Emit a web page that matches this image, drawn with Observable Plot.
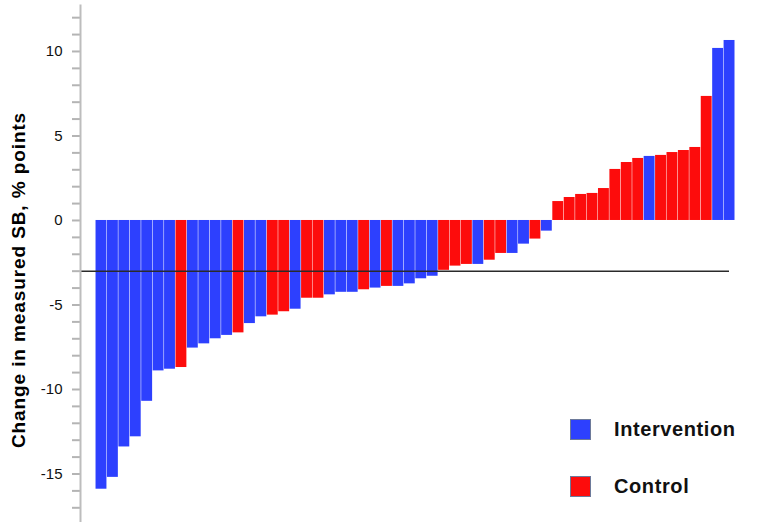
<!DOCTYPE html>
<html>
<head>
<meta charset="utf-8">
<script src="https://cdn.jsdelivr.net/npm/d3@7"></script>
<script src="https://cdn.jsdelivr.net/npm/@observablehq/plot@0.6"></script>
<style>
  html, body { margin: 0; padding: 0; background: #fff; }
  #wrap { position: relative; width: 758px; height: 522px; font-family: "Liberation Sans", Arial, sans-serif; }
  #wrap svg { display: block; }
  #wrap svg g[aria-label="text"] text { letter-spacing: 0.9px; }
  .leg { position: absolute; display: flex; align-items: center; font-weight: bold; font-size: 20px; letter-spacing: 0.6px; color: #111; }
  .sw { width: 21px; height: 21px; border: 1px solid #6d7a9a; margin-right: 23px; box-sizing: border-box; }
</style>
</head>
<body>
<div id="wrap"></div>
<script>
// Change in measured SB (% points), one bar per participant, sorted
const values = [-15.9, -15.2, -13.4, -12.8, -10.7, -8.9, -8.8, -8.7, -7.55, -7.3,
  -7.0, -6.8, -6.65, -6.1, -5.7, -5.6, -5.4, -5.25, -4.6, -4.6,
  -4.4, -4.25, -4.25, -4.1, -4.0, -3.9, -3.9, -3.75, -3.45, -3.3,
  -2.95, -2.7, -2.6, -2.6, -2.35, -1.95, -1.95, -1.4, -1.1, -0.63,
  1.12, 1.36, 1.54, 1.6, 1.89, 3.02, 3.43, 3.67, 3.79, 3.85,
  4.02, 4.14, 4.32, 7.34, 10.18, 10.65];
// I = Intervention, C = Control
const groupCodes = ["I","I","I","I","I","I","I","C","I","I",
  "I","I","C","I","I","C","C","I","C","C",
  "I","I","I","C","I","C","I","I","I","I",
  "C","C","C","I","C","C","I","I","C","I",
  "C","C","C","C","C","C","C","C","I","C",
  "C","C","C","C","I","I"];
const groupNames = {I: "Intervention", C: "Control"};
const seriesNames = ["Intervention", "Control"];
const seriesColors = ["#2d40fe", "#fd0c0c"];
const referenceValue = [-3];
const labelTicks = [-15, -10, -5, 0, 5, 10];
const minorTicks = d3.range(-17, 13);
const yTitle = "Change in measured SB, % points";

const data = values.map((v, i) => ({id: i + 1, value: v, group: groupNames[groupCodes[i]]}));

const font = '"Liberation Sans", Arial, sans-serif';

const chart = Plot.plot({
  width: 758,
  height: 522,
  marginLeft: 80,
  marginRight: 23.5,
  marginTop: 5,
  marginBottom: 0,
  style: {fontFamily: font, background: "#fff"},
  x: {type: "band", domain: data.map(d => d.id), paddingInner: 0.045, paddingOuter: 0.68, align: 1, round: false, axis: null},
  y: {domain: [-17.87, 12.72], axis: null},
  color: {domain: seriesNames, range: seriesColors},
  marks: [
    Plot.barY(data, {x: "id", y: "value", fill: "group"}),
    Plot.ruleY(referenceValue, {stroke: "#2a2a2a", strokeWidth: 1.5, insetRight: 5.5}),
    Plot.axisY({ticks: minorTicks, tickSize: 8, tickFormat: () => "", stroke: "#b4b4b4", strokeWidth: 2, label: null}),
    Plot.axisY({ticks: labelTicks, tickSize: 0, tickPadding: 18, tickFormat: d => String(d), fontSize: 15, fill: "#111", label: null}),
    Plot.frame({anchor: "left", stroke: "#bdbdbd", strokeWidth: 2}),
    Plot.text([yTitle], {frameAnchor: "left", textAnchor: "middle", rotate: -90, dx: -62, dy: 16, fontWeight: "bold", fontSize: 19, fill: "#000"})
  ]
});

const wrap = document.getElementById("wrap");
wrap.appendChild(chart);

const legendPos = [{top: 418}, {top: 475}];
seriesNames.forEach((name, i) => {
  const item = document.createElement("div");
  item.className = "leg";
  item.style.left = "570px";
  item.style.top = legendPos[i].top + "px";
  const sw = document.createElement("div");
  sw.className = "sw";
  sw.style.background = seriesColors[i];
  const label = document.createElement("span");
  label.textContent = name;
  item.appendChild(sw);
  item.appendChild(label);
  wrap.appendChild(item);
});
</script>
</body>
</html>
